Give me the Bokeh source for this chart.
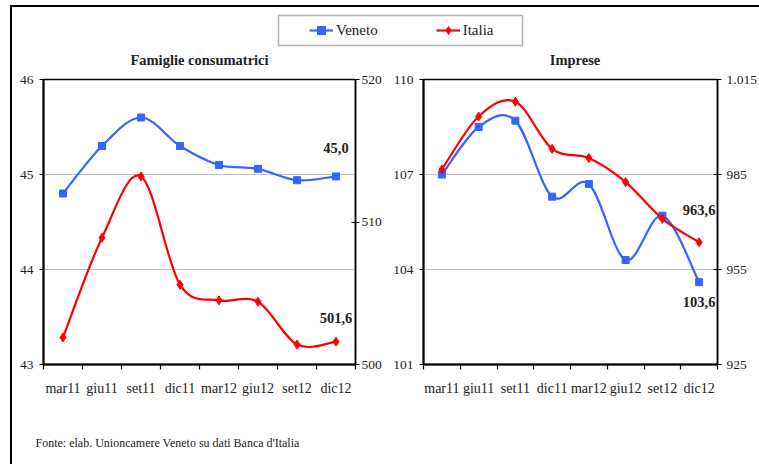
from bokeh.plotting import figure
from bokeh.models import (Range1d, LinearAxis, FixedTicker, Grid, Legend, LegendItem,
                          BoxAnnotation, Label)
from bokeh.layouts import column, row
from bokeh.core.properties import value
from bokeh.embed import file_html
from bokeh.resources import INLINE

# ---------------- data ----------------
periods = ["mar11", "giu11", "set11", "dic11", "mar12", "giu12", "set12", "dic12"]

fam_veneto = [44.80, 45.30, 45.60, 45.30, 45.10, 45.06, 44.94, 44.98]
fam_italia = [501.9, 508.9, 513.2, 505.6, 504.5, 504.4, 501.4, 501.6]

imp_veneto = [107.0, 108.5, 108.7, 106.3, 106.7, 104.3, 105.7, 103.6]
imp_italia = [986.6, 1003.3, 1008.0, 993.1, 990.2, 982.6, 971.0, 963.6]

fam_left_ticks = [43, 44, 45, 46]
fam_right_ticks = [500, 510, 520]
imp_left_ticks = [101, 104, 107, 110]
imp_right_ticks = [925, 955, 985, 1015]
imp_right_tick_labels = ["925", "955", "985", "1.015"]

series_names = ["Veneto", "Italia"]
titles = ["Famiglie consumatrici", "Imprese"]
source_note = "Fonte: elab. Unioncamere Veneto su dati Banca d'Italia"

# ---------------- style / layout ----------------
BLUE = "#3366FF"
RED = "#FF0000"
FONT = "Liberation Serif"
TXT = "#222222"
GRID = "#C0C0C0"
NAN = float("nan")

TOTAL_W = 747
TOP_H = 61
CHART_H = 362
FOOT_H = 34
W1, W2 = 374, 373
MB1 = (31, 31, 10, 64)   # left, right, top, bottom
MB2 = (37, 41, 11, 66)


def fmt_it(v):
    return ("%.1f" % v).replace(".", ",")


def smooth(xs, ys):
    n = len(xs)
    d = dict(x0=[], y0=[], x1=[], y1=[], cx0=[], cy0=[], cx1=[], cy1=[])
    for i in range(n - 1):
        a = i - 1 if i > 0 else 0
        b = i + 2 if i + 2 < n else n - 1
        d["x0"].append(xs[i]); d["y0"].append(ys[i])
        d["x1"].append(xs[i + 1]); d["y1"].append(ys[i + 1])
        d["cx0"].append(xs[i] + (xs[i + 1] - xs[a]) / 6.0)
        d["cy0"].append(ys[i] + (ys[i + 1] - ys[a]) / 6.0)
        d["cx1"].append(xs[i + 1] - (xs[b] - xs[i]) / 6.0)
        d["cy1"].append(ys[i + 1] - (ys[b] - ys[i]) / 6.0)
    return d


def strip(height):
    s = figure(width=TOTAL_W, height=height, x_range=Range1d(0, TOTAL_W),
               y_range=Range1d(0, height), min_border=0, toolbar_location=None,
               output_backend="svg", x_axis_location=None, y_axis_location=None,
               outline_line_color=None)
    for g in s.grid:
        g.visible = False
    return s


def make_chart(width, height, mb, lrange, rrange, lticks, rticks, rlabels,
               veneto, italia, v_off, i_off, lstand, rstand):
    xs = [i + 0.5 for i in range(len(periods))]
    p = figure(width=width, height=height,
               x_range=Range1d(0, len(periods)), y_range=Range1d(*lrange),
               x_axis_location=None, y_axis_location=None,
               toolbar_location=None, output_backend="svg",
               min_border_left=mb[0], min_border_right=mb[1],
               min_border_top=mb[2], min_border_bottom=mb[3],
               outline_line_color="black", outline_line_width=1.5,
               background_fill_color="white", border_fill_color="white")
    for g in p.grid:
        g.visible = False
    p.extra_y_ranges = {"right": Range1d(*rrange)}

    # x axis: labels at category centres, tick marks at category borders
    xax = LinearAxis(ticker=FixedTicker(ticks=xs, minor_ticks=list(range(len(periods) + 1))),
                     major_label_overrides={x: lab for x, lab in zip(xs, periods)},
                     major_tick_line_color=None, major_tick_out=5, major_tick_in=0,
                     minor_tick_line_color="black", minor_tick_out=5, minor_tick_in=0,
                     minor_tick_line_width=1.2,
                     axis_line_color="black", axis_line_width=2,
                     major_label_standoff=11,
                     major_label_text_font=FONT, major_label_text_font_size="14px",
                     major_label_text_color=TXT)
    p.add_layout(xax, "below")

    lax = LinearAxis(ticker=FixedTicker(ticks=lticks, minor_ticks=[]),
                     major_tick_out=4, major_tick_in=0, major_tick_line_width=1.2,
                     axis_line_color="black", axis_line_width=2,
                     major_label_standoff=lstand,
                     major_label_text_font=FONT, major_label_text_font_size="13.5px",
                     major_label_text_color=TXT)
    p.add_layout(lax, "left")

    rax = LinearAxis(y_range_name="right",
                     ticker=FixedTicker(ticks=rticks, minor_ticks=[]),
                     major_label_overrides={t: l for t, l in zip(rticks, rlabels)},
                     major_tick_out=4, major_tick_in=4, major_tick_line_width=1.2,
                     axis_line_color="black", axis_line_width=1.5,
                     major_label_standoff=rstand,
                     major_label_text_font=FONT, major_label_text_font_size="13.5px",
                     major_label_text_color=TXT)
    p.add_layout(rax, "right")

    p.add_layout(Grid(dimension=1, ticker=FixedTicker(ticks=lticks),
                      grid_line_color=GRID, grid_line_width=1.2))

    sv = smooth(xs, veneto)
    p.bezier(x0="x0", y0="y0", x1="x1", y1="y1", cx0="cx0", cy0="cy0", cx1="cx1", cy1="cy1",
             source=sv, line_color=BLUE, line_width=2.2)
    p.scatter(xs, veneto, marker="square", size=7, color=BLUE)

    si = smooth(xs, italia)
    p.bezier(x0="x0", y0="y0", x1="x1", y1="y1", cx0="cx0", cy0="cy0", cx1="cx1", cy1="cy1",
             source=si, line_color=RED, line_width=2.2, y_range_name="right")
    p.scatter(xs, italia, marker="diamond", size=9, color=RED, y_range_name="right")

    p.text(x=[xs[-1]], y=[veneto[-1]], text=[fmt_it(veneto[-1])], y_offset=v_off,
           text_align="center", text_baseline="middle", text_font=value(FONT),
           text_font_size="14.5px", text_font_style="bold", text_color=TXT)
    p.text(x=[xs[-1]], y=[italia[-1]], text=[fmt_it(italia[-1])], y_offset=i_off,
           text_align="center", text_baseline="middle", text_font=value(FONT),
           text_font_size="14.5px", text_font_style="bold", text_color=TXT,
           y_range_name="right")
    return p


p1 = make_chart(W1, CHART_H, MB1, (43, 46), (500, 520),
                fam_left_ticks, fam_right_ticks, [str(t) for t in fam_right_ticks],
                fam_veneto, fam_italia, -28, -24, 6, 2)
p2 = make_chart(W2, CHART_H, MB2, (101, 110), (925, 1015),
                imp_left_ticks, imp_right_ticks, imp_right_tick_labels,
                imp_veneto, imp_italia, 20, -32, 6, 5)

# ---------------- top strip: legend + panel titles ----------------
top = strip(TOP_H)
top.add_layout(BoxAnnotation(left=266, right=510, bottom=23, top=53,
                             fill_color=None, line_color="black", line_width=1.5))
vl = top.line(x=[NAN], y=[NAN], line_color=BLUE, line_width=2.2)
vs = top.scatter(x=[NAN], y=[NAN], marker="square", size=7, color=BLUE)
il = top.line(x=[NAN], y=[NAN], line_color=RED, line_width=2.2)
isc = top.scatter(x=[NAN], y=[NAN], marker="diamond", size=9, color=RED)
legend = Legend(items=[LegendItem(label=series_names[0], renderers=[vl, vs]),
                       LegendItem(label=series_names[1], renderers=[il, isc])],
                orientation="horizontal", location=(297, 28), padding=0, margin=0,
                spacing=58, glyph_width=24, glyph_height=20, label_standoff=3,
                label_text_font=FONT, label_text_font_size="15px", label_text_color=TXT,
                border_line_color=None, background_fill_alpha=0)
top.add_layout(legend, "center")

title_x = [MB1[0] + (W1 - MB1[0] - MB1[1]) / 2.0,
           W1 + MB2[0] + (W2 - MB2[0] - MB2[1]) / 2.0 + 4]
for tx, tt in zip(title_x, titles):
    top.add_layout(Label(x=tx, y=9, text=tt, text_align="center", text_baseline="middle",
                         text_font=FONT, text_font_size="14.5px", text_font_style="bold",
                         text_color=TXT))

# ---------------- bottom strip: source note ----------------
foot = strip(FOOT_H)
foot.add_layout(Label(x=23, y=22, text=source_note, text_align="left",
                      text_baseline="middle", text_font=FONT, text_font_size="12px",
                      text_color=TXT))

layout = column(top, row(p1, p2, spacing=0), foot, spacing=0, margin=(5, 0, 0, 10),
                styles={"border-left": "2px solid #000", "border-top": "2px solid #000"})

open("out.html", "w").write(file_html(layout, INLINE))
